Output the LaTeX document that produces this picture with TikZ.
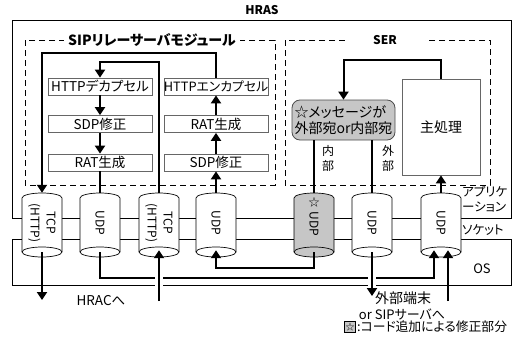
\documentclass[tikz,border=0pt]{standalone}
\usepackage{fontspec}
\setmainfont{Noto Sans CJK JP}[RawFeature=+palt]
\usetikzlibrary{arrows.meta}
\newcommand\drawcyl[2]{%
  \begin{scope}[shift={(#1,225)}]
    \draw[fill=#2,line width=0.7pt] (-20,-27) arc[start angle=180,end angle=360,x radius=20,y radius=5]
      -- (20,27) arc[start angle=0,end angle=180,x radius=20,y radius=5] -- cycle;
    \draw[line width=0.7pt] (-20,27) arc[start angle=180,end angle=360,x radius=20,y radius=5];
  \end{scope}}
\begin{document}
\begin{tikzpicture}[x=1pt,y=-1pt,
  every node/.style={inner sep=0pt},
  box/.style={draw=black!60,line width=0.7pt,fill=white,minimum width=104pt,minimum height=17pt,font=\fontsize{13.5}{14}\selectfont},
  hidden/.style={minimum width=40pt,minimum height=64pt},
  frame/.style={line width=0.8pt},
  dashbox/.style={draw,line width=0.8pt,dash pattern=on 6pt off 4pt},
  conn/.style={line width=2pt},
  arr/.style={conn,-{Triangle[width=10pt,length=8pt]}},
  lbl/.style={font=\fontsize{12}{15}\selectfont},
  cyltxt/.style={rotate=-90,align=center,font=\fontsize{12}{16}\selectfont},
  ttl/.style={font=\bfseries\fontsize{12}{14}\selectfont,fill=white,inner xsep=4pt,inner ysep=1pt},
]
\useasboundingbox (0,0) rectangle (515,348);

% frames
\draw[frame] (12,20) rectangle (511,218);
\draw[frame] (12,239) rectangle (511,285);
\node[font=\bfseries\fontsize{12}{14}\selectfont] (hras) at (262,10) {HRAS};

\draw[dashbox] (25,40) rectangle (275,185);
\node[ttl,font=\bfseries\fontsize{14}{15}\selectfont] (sipt) at (152,40) {SIPリレーサーバモジュール};
\draw[dashbox] (285,40) rectangle (490,185);
\node[ttl,inner xsep=28pt] (sert) at (385,40) {SER};

% process boxes
\node[box] (dec) at (100,86.5) {HTTPデカプセル};
\node[box] (sdpL) at (100,124) {SDP修正};
\node[box] (ratL) at (100,162.5) {RAT生成};
\node[box,font=\fontsize{12.8}{14}\selectfont] (enc) at (216,86.5) {HTTPエンカプセル};
\node[box] (ratR) at (216,124) {RAT生成};
\node[box] (sdpR) at (216,162.5) {SDP修正};

\node[draw=black!70,line width=0.8pt,fill=gray!45,rounded corners=8pt,minimum width=103pt,minimum height=40pt,
      align=left,font=\fontsize{14}{16.5}\selectfont] (judge) at (343.5,120) {☆メッセージが\\外部宛or内部宛};
\node[box,minimum width=78pt,minimum height=96pt,font=\fontsize{14}{15}\selectfont] (main) at (441,127) {主処理};

\node[lbl,align=center] (inL) at (328,158.5) {内\\部};
\node[lbl,align=center] (outL) at (388,158.5) {外\\部};

% cylinders
\drawcyl{42}{white}
\drawcyl{100}{white}
\drawcyl{159}{white}
\drawcyl{216}{white}
\drawcyl{314}{gray!45}
\drawcyl{372}{white}
\drawcyl{441}{white}
\node[hidden] (c1) at (42,225) {};
\node[hidden] (c2) at (100,225) {};
\node[hidden] (c3) at (159,225) {};
\node[hidden] (c4) at (216,225) {};
\node[hidden] (c5) at (314,225) {};
\node[hidden] (c6) at (372,225) {};
\node[hidden] (c7) at (441,225) {};
\node[cyltxt] (t1) at (42,223) {TCP\\(HTTP)};
\node[cyltxt] (t2) at (100,223) {UDP};
\node[cyltxt] (t3) at (159,223) {TCP\\(HTTP)};
\node[cyltxt] (t4) at (216,223) {UDP};
\node[font=\fontsize{11}{11}\selectfont] (star) at (314,202) {☆};
\node[cyltxt] (t5) at (314,224) {UDP};
\node[cyltxt] (t6) at (372,223) {UDP};
\node[cyltxt] (t7) at (441,223) {UDP};

% right labels
\node[lbl,anchor=west,font=\fontsize{12.5}{15}\selectfont] (app1) at (462,192) {アプリケ};
\node[lbl,anchor=west,font=\fontsize{12.5}{15}\selectfont] (app2) at (462,207) {ーション};
\node[lbl,anchor=west,font=\fontsize{12.5}{15}\selectfont] (app3) at (462,230) {ソケット};
\node[lbl,font=\fontsize{13}{15}\selectfont] (os) at (482,269) {OS};

% helper coordinates
\coordinate (topA) at (0,53);
\coordinate (topB) at (0,62);
\coordinate (topC) at (0,60);
\coordinate (busA) at (0,278);
\coordinate (busB) at (0,268);
\coordinate (hracEnd) at (42,300);
\coordinate (hracIn) at (159,301);
\coordinate (extOut) at (372,296);
\coordinate (extIn) at (448,301);
\coordinate (c7a) at ([xshift=-7pt,yshift=7pt]c7.south);
\coordinate (c7b) at ([xshift=7pt,yshift=7pt]c7.south);

% SIP module connectors
\draw[arr] (enc.north) -- (enc.north |- topA) -- (c1.north |- topA) -- (c1.north);
\draw[arr] (c3.north) -- (c3.north |- topB) -- (dec.north |- topB) -- (dec.north);
\draw[arr] (dec) -- (sdpL);
\draw[arr] (sdpL) -- (ratL);
\draw[conn] (ratL) -- (c2.north);
\draw[arr] (c4.north) -- (sdpR);
\draw[arr] (sdpR) -- (ratR);
\draw[arr] (ratR) -- (enc);

% SER connectors
\draw[arr] (main.north) -- (main.north |- topC) -- (judge.north |- topC) -- (judge.north);
\draw[conn] (c5.north |- judge.south) -- (c5.north);
\draw[conn] (c6.north |- judge.south) -- (c6.north);
\draw[arr] (c7.north) -- (c7.north |- main.south);

% OS connectors
\draw[arr] ([yshift=5pt]c1.south) -- (hracEnd);
\draw[arr] ([yshift=5pt]c2.south) -- (c2.south |- busA) -- (c7a |- busA) -- (c7a);
\draw[arr] ([yshift=5pt]c5.south) -- (c5.south |- busB) -- (c4.south |- busB) -- ([yshift=7pt]c4.south);
\draw[white,line width=8pt] (hracIn |- 0,273) -- (hracIn |- 0,289);
\draw[white,line width=8pt] (extOut |- 0,273) -- (extOut |- 0,289);
\draw[arr] (hracIn) -- ([yshift=7pt]c3.south);
\draw[arr] ([yshift=5pt]c6.south) -- (extOut);
\draw[arr] (extIn) -- (c7b);

% bottom texts
\node[lbl,font=\fontsize{13.5}{15}\selectfont] (hrac) at (101,301) {HRACへ};
\node[lbl,anchor=west,font=\fontsize{14}{15}\selectfont] (ext1) at (375,298) {外部端末};
\node[lbl,font=\fontsize{13}{15}\selectfont] (ext2) at (402,314) {or SIPサーバへ};
\node[draw,line width=0.7pt,fill=gray!45,minimum size=11pt,font=\fontsize{9}{9}\selectfont] (leg) at (350,327) {☆};
\node[lbl,anchor=west,font=\fontsize{12.8}{15}\selectfont] (legt) at (357,327) {:コード追加による修正部分};
\end{tikzpicture}
\end{document}
